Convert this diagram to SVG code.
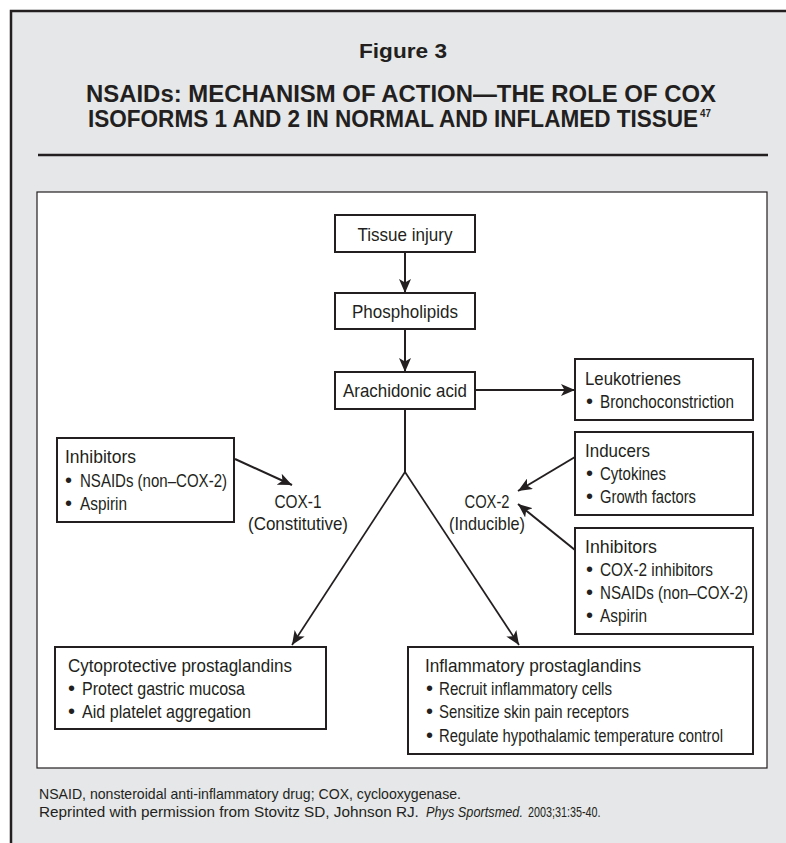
<svg xmlns="http://www.w3.org/2000/svg" width="786" height="843" viewBox="0 0 786 843">
<style>
  .t { font-family: 'Liberation Sans', Arial, sans-serif; font-size: 19px; fill: #231f20; }
  .b { font-size: 20px; }
  .c { text-anchor: middle; }
  .hd { font-family: 'Liberation Sans', Arial, sans-serif; font-weight: bold; fill: #231f20; }
  .ft { font-family: 'Liberation Sans', Arial, sans-serif; font-size: 15px; fill: #231f20; }
  .box { fill: #ffffff; stroke: #231f20; stroke-width: 2; }
  .ln { stroke: #231f20; stroke-width: 2; fill: none; }
  .dg { stroke: #231f20; stroke-width: 1.7; fill: none; }
</style>
<defs>
  <marker id="ah" markerUnits="userSpaceOnUse" viewBox="0 0 14 12" refX="14" refY="6" markerWidth="14" markerHeight="12" orient="auto">
    <path d="M0,0 L14,6 L0,12 L3.5,6 z" fill="#231f20"/>
  </marker>
</defs>
<rect x="0" y="0" width="786" height="843" fill="#ffffff"/>
<rect x="11" y="11" width="800" height="850" fill="#e6e7e8" stroke="#231f20" stroke-width="2.5"/>
<g id="title">
  <text class="hd c" x="403" y="58" font-size="21" textLength="88" lengthAdjust="spacingAndGlyphs">Figure 3</text>
  <text class="hd c" x="401" y="102" font-size="23" textLength="630" lengthAdjust="spacingAndGlyphs">NSAIDs: MECHANISM OF ACTION—THE ROLE OF COX</text>
  <text class="hd" transform="translate(88 127) scale(0.98 1)" x="0" y="0" font-size="23">ISOFORMS 1 AND 2 IN NORMAL AND INFLAMED TISSUE<tspan font-size="10" dx="2" dy="-10">47</tspan></text>
  <line x1="38" y1="155" x2="768" y2="155" stroke="#231f20" stroke-width="2.5"/>
</g>
<rect x="37" y="192" width="730" height="576" fill="#ffffff" stroke="#231f20" stroke-width="1.2"/>
<g id="connectors">
  <line class="ln" x1="405" y1="252" x2="405" y2="293" marker-end="url(#ah)"/>
  <line class="ln" x1="405" y1="329" x2="405" y2="372" marker-end="url(#ah)"/>
  <line class="ln" x1="475" y1="390" x2="575" y2="390" marker-end="url(#ah)"/>
  <polyline class="ln" points="405,409 405,472"/>
  <line class="dg" x1="405" y1="472" x2="292" y2="645" marker-end="url(#ah)"/>
  <line class="dg" x1="405" y1="472" x2="519" y2="645" marker-end="url(#ah)"/>
  <line class="ln" x1="235" y1="459" x2="292" y2="485" marker-end="url(#ah)"/>
  <line class="ln" x1="575" y1="457" x2="518" y2="491" marker-end="url(#ah)"/>
  <line class="ln" x1="575" y1="550" x2="518" y2="504" marker-end="url(#ah)"/>
</g>
<g id="tissue-injury">
  <rect class="box" x="335" y="215" width="140" height="37"/>
  <text class="t c" x="405" y="241" textLength="95" lengthAdjust="spacingAndGlyphs">Tissue injury</text>
</g>
<g id="phospholipids">
  <rect class="box" x="335" y="293" width="140" height="36"/>
  <text class="t c" x="405" y="318" textLength="106" lengthAdjust="spacingAndGlyphs">Phospholipids</text>
</g>
<g id="arachidonic-acid">
  <rect class="box" x="335" y="372" width="140" height="37"/>
  <text class="t c" x="405" y="397" textLength="124" lengthAdjust="spacingAndGlyphs">Arachidonic acid</text>
</g>
<g id="leukotrienes">
  <rect class="box" x="575" y="359" width="178" height="61"/>
  <text class="t" x="585" y="385" textLength="96" lengthAdjust="spacingAndGlyphs">Leukotrienes</text>
  <text class="t" y="408"><tspan class="b" x="586">•</tspan><tspan x="600" textLength="134" lengthAdjust="spacingAndGlyphs">Bronchoconstriction</tspan></text>
</g>
<g id="inducers">
  <rect class="box" x="575" y="432" width="178" height="83"/>
  <text class="t" x="585" y="457" textLength="65" lengthAdjust="spacingAndGlyphs">Inducers</text>
  <text class="t" y="480"><tspan class="b" x="586">•</tspan><tspan x="600" textLength="66" lengthAdjust="spacingAndGlyphs">Cytokines</tspan></text>
  <text class="t" y="503"><tspan class="b" x="586">•</tspan><tspan x="600" textLength="96" lengthAdjust="spacingAndGlyphs">Growth factors</tspan></text>
</g>
<g id="inhibitors-cox2">
  <rect class="box" x="575" y="528" width="178" height="106"/>
  <text class="t" x="585" y="553" textLength="72" lengthAdjust="spacingAndGlyphs">Inhibitors</text>
  <text class="t" y="576"><tspan class="b" x="586">•</tspan><tspan x="600" textLength="113" lengthAdjust="spacingAndGlyphs">COX-2 inhibitors</tspan></text>
  <text class="t" y="599"><tspan class="b" x="586">•</tspan><tspan x="600" textLength="148" lengthAdjust="spacingAndGlyphs">NSAIDs (non–COX-2)</tspan></text>
  <text class="t" y="622"><tspan class="b" x="586">•</tspan><tspan x="600" textLength="47" lengthAdjust="spacingAndGlyphs">Aspirin</tspan></text>
</g>
<g id="inhibitors-cox1">
  <rect class="box" x="57" y="438" width="177" height="84"/>
  <text class="t" x="65" y="463" textLength="71" lengthAdjust="spacingAndGlyphs">Inhibitors</text>
  <text class="t" y="487"><tspan class="b" x="65">•</tspan><tspan x="80" textLength="147" lengthAdjust="spacingAndGlyphs">NSAIDs (non–COX-2)</tspan></text>
  <text class="t" y="510"><tspan class="b" x="65">•</tspan><tspan x="80" textLength="47" lengthAdjust="spacingAndGlyphs">Aspirin</tspan></text>
</g>
<g id="cox1">
  <text class="t c" x="298" y="508" textLength="47" lengthAdjust="spacingAndGlyphs">COX-1</text>
  <text class="t c" x="298" y="530" textLength="100" lengthAdjust="spacingAndGlyphs">(Constitutive)</text>
</g>
<g id="cox2">
  <text class="t c" x="487" y="508" textLength="45" lengthAdjust="spacingAndGlyphs">COX-2</text>
  <text class="t c" x="487" y="530" textLength="76" lengthAdjust="spacingAndGlyphs">(Inducible)</text>
</g>
<g id="cytoprotective">
  <rect class="box" x="55" y="647" width="271" height="82"/>
  <text class="t" x="68" y="672" textLength="224" lengthAdjust="spacingAndGlyphs">Cytoprotective prostaglandins</text>
  <text class="t" y="695"><tspan class="b" x="68">•</tspan><tspan x="82" textLength="163" lengthAdjust="spacingAndGlyphs">Protect gastric mucosa</tspan></text>
  <text class="t" y="718"><tspan class="b" x="68">•</tspan><tspan x="82" textLength="169" lengthAdjust="spacingAndGlyphs">Aid platelet aggregation</tspan></text>
</g>
<g id="inflammatory">
  <rect class="box" x="408" y="647" width="345" height="107"/>
  <text class="t" x="425" y="672" textLength="216" lengthAdjust="spacingAndGlyphs">Inflammatory prostaglandins</text>
  <text class="t" y="695"><tspan class="b" x="426">•</tspan><tspan x="439" textLength="173" lengthAdjust="spacingAndGlyphs">Recruit inflammatory cells</tspan></text>
  <text class="t" y="718"><tspan class="b" x="426">•</tspan><tspan x="439" textLength="190" lengthAdjust="spacingAndGlyphs">Sensitize skin pain receptors</tspan></text>
  <text class="t b" x="426" y="742">•</text>
  <text class="t" transform="translate(439 742) scale(0.782 1)" x="0" y="0">Regulate hypothalamic temperature control</text>
</g>
<g id="footer">
  <text class="ft" x="39" y="799" textLength="422" lengthAdjust="spacingAndGlyphs">NSAID, nonsteroidal anti-inflammatory drug; COX, cyclooxygenase.</text>
  <text class="ft" transform="translate(39 817) scale(1.02 1)" x="0" y="0">Reprinted with permission from Stovitz SD, Johnson RJ.</text>
  <text class="ft" transform="translate(426 817) scale(0.85 1)" x="0" y="0" font-style="italic">Phys Sportsmed.</text>
  <text class="ft" transform="translate(528 817) scale(0.72 1)" x="0" y="0">2003;31:35-40.</text>
</g>
</svg>
